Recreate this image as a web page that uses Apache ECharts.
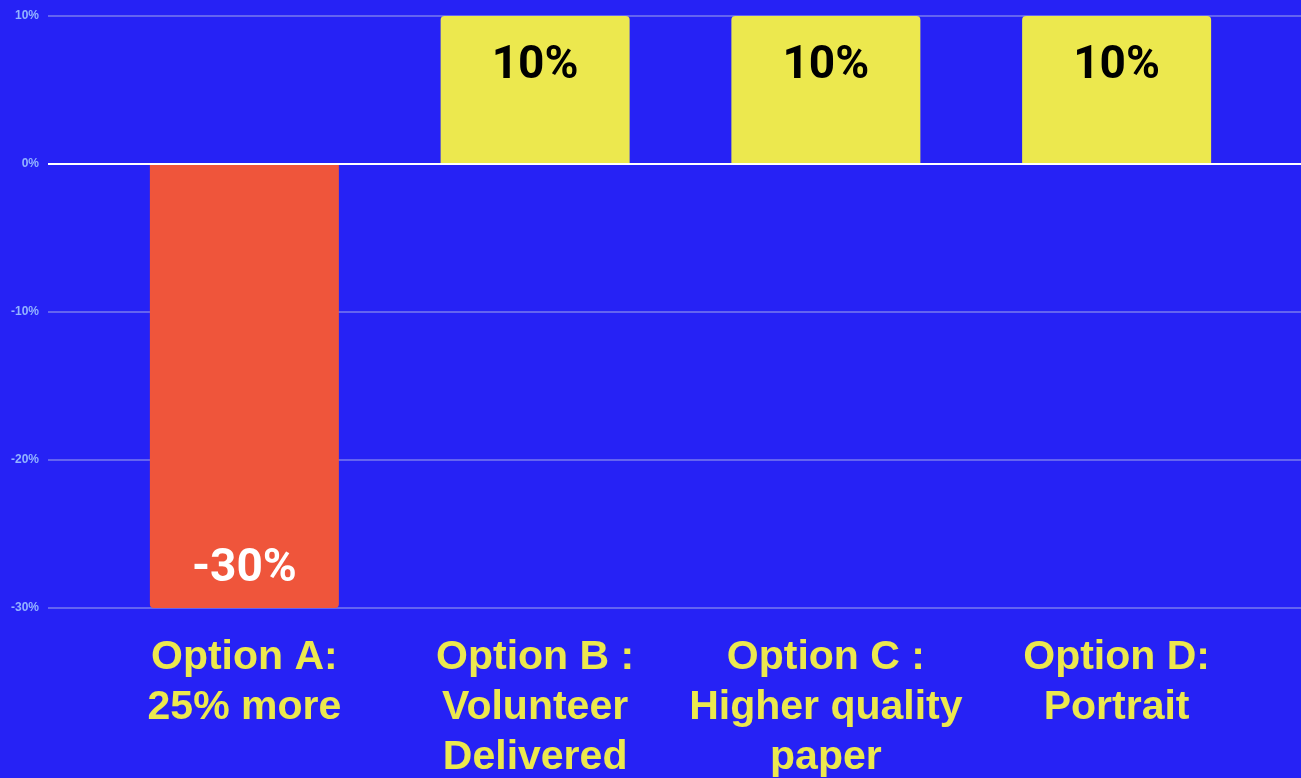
<!DOCTYPE html>
<html><head><meta charset="utf-8">
<script src="https://cdn.jsdelivr.net/npm/echarts@6/dist/echarts.min.js"></script>
<style>html,body{margin:0;padding:0;background:#2622F5;}#c{width:1301px;height:778px;}</style>
</head><body><div id="c"></div>
<script>
const categories = ["Option A:\n25% more", "Option B :\nVolunteer\nDelivered", "Option C :\nHigher quality\npaper", "Option D:\nPortrait"];
const values = [-30, 10, 10, 10];
const barColors = ["#EF553B", "#ECE84E", "#ECE84E", "#ECE84E"];
const labelColors = ["#ffffff", "#000000", "#000000", "#000000"];
const yTicks = [-30, -20, -10, 0, 10];

const chart = echarts.init(document.getElementById('c'));
chart.setOption({
  backgroundColor: '#2622F5',
  animation: false,
  grid: [
    {left: 48, right: 0, top: 16, bottom: 170, outerBoundsMode: 'none', containLabel: false},
    {left: 99, right: 39, top: 16, bottom: 170, outerBoundsMode: 'none', containLabel: false}
  ],
  xAxis: [
    {gridIndex: 0, type: 'category', data: [], show: false},
    {gridIndex: 1, type: 'category', data: categories,
     axisLine: {show: false}, axisTick: {show: false},
     axisLabel: {color: '#ECE84E', fontFamily: 'Liberation Sans, Arial', fontWeight: 'bold', fontSize: 41, lineHeight: 50, margin: 25, interval: 0}}
  ],
  yAxis: [
    {gridIndex: 0, type: 'value', min: yTicks[0], max: yTicks[yTicks.length-1], interval: 10,
     axisLine: {show: false}, axisTick: {show: false},
     splitLine: {lineStyle: {color: '#6464F0', width: 2}},
     axisLabel: {formatter: v => v + '%', color: '#93B4FF', fontFamily: 'Liberation Sans, Arial', fontWeight: 'bold', fontSize: 12, margin: 9}},
    {gridIndex: 1, type: 'value', min: yTicks[0], max: yTicks[yTicks.length-1], interval: 10, show: false, splitLine: {show: false}}
  ],
  series: [
    {type: 'line', xAxisIndex: 0, yAxisIndex: 0, data: [], silent: true,
     markLine: {symbol: 'none', silent: true, label: {show: false}, lineStyle: {color: '#ffffff', width: 2, type: 'solid'}, data: [{yAxis: 0}]}},
    {type: 'bar', xAxisIndex: 1, yAxisIndex: 1, barWidth: 189,
     data: values.map((v, i) => ({
       value: v,
       itemStyle: {color: barColors[i], borderRadius: v < 0 ? [0, 0, 4, 4] : [4, 4, 0, 0]},
       label: {show: true, position: v < 0 ? 'insideBottom' : 'insideTop', distance: v < 0 ? 16 : 27,
               formatter: v + '%', color: labelColors[i], fontFamily: 'Roboto', fontWeight: 'bold', fontSize: 46}
     }))}
  ]
});
</script></body></html>
